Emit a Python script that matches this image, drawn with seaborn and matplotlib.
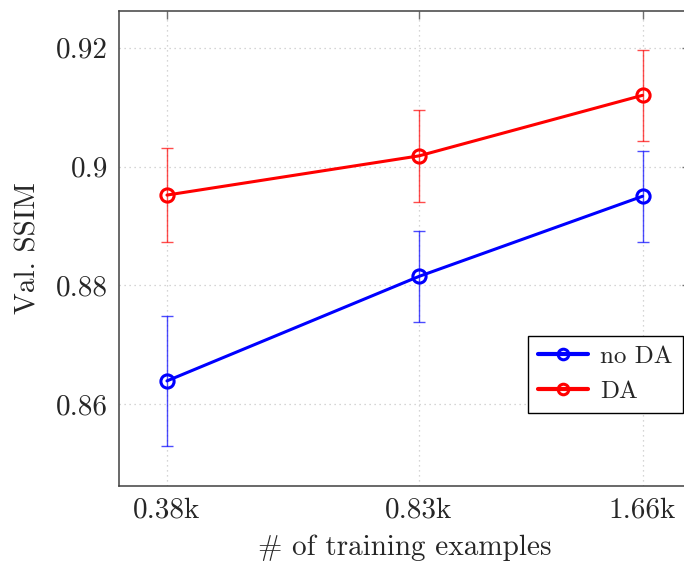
import matplotlib
matplotlib.use('Agg')
import matplotlib.pyplot as plt
from matplotlib.ticker import NullLocator
import pandas as pd
import seaborn as sns

# training set sizes (log spaced x axis)
sizes = [380, 830, 1660]
tick_labels = ['0.38k', '0.83k', '1.66k']

ssim_no_da = [0.8639, 0.8815, 0.8950]
err_no_da = [0.0110, 0.0076, 0.0077]
ssim_da = [0.8952, 0.9018, 0.9120]
err_da = [0.0079, 0.0077, 0.0077]

series = [('no DA', ssim_no_da, err_no_da, 'blue'),
          ('DA', ssim_da, err_da, 'red')]

sns.set_style('white')
plt.rcParams['font.family'] = ['cmr10', 'DejaVu Serif']
plt.rcParams['axes.formatter.use_mathtext'] = True
plt.rcParams['mathtext.fontset'] = 'cm'

fig = plt.figure(figsize=(6.84, 5.66), dpi=100)
ax = fig.add_axes([119 / 684, 1 - 486 / 566, 571 / 684, 475 / 566])

for name, vals, errs, color in series:
    df = pd.DataFrame({'size': sizes, 'ssim': vals})
    ax.errorbar(sizes, vals, yerr=errs, fmt='none', ecolor=color,
                elinewidth=1.0, capsize=4, capthick=1.0, alpha=0.7, zorder=2)
    sns.lineplot(data=df, x='size', y='ssim', ax=ax, color=color,
                 linewidth=2.2, marker='o', markersize=9.5,
                 markerfacecolor='none', markeredgecolor=color,
                 markeredgewidth=2.2, label=name, zorder=3)

ax.set_xscale('log')
ax.set_xlim(327.5, 1923)
ax.set_ylim(0.8462, 0.9262)
ax.set_xticks(sizes)
ax.set_xticklabels(tick_labels)
ax.xaxis.set_minor_locator(NullLocator())
ax.set_yticks([0.86, 0.88, 0.9, 0.92])
ax.set_yticklabels(['0.86', '0.88', '0.9', '0.92'])

ax.grid(True, color='#c8c8c8', linestyle=(0, (1, 3)), linewidth=0.9)
ax.tick_params(direction='in', length=6, width=1, color='#707070',
               top=True, right=True, labelsize=21, pad=8)
for sp in ax.spines.values():
    sp.set_color('#404040')
    sp.set_linewidth(1.1)

ax.set_xlabel('# of training examples', fontsize=21, labelpad=8)
ax.set_ylabel('Val. SSIM', fontsize=21, labelpad=10)

leg = ax.legend(loc='lower right', bbox_to_anchor=(683 / 684, 1 - 413 / 566),
                bbox_transform=fig.transFigure, borderaxespad=0,
                fontsize=18, frameon=True, fancybox=False, framealpha=1,
                edgecolor='black', handlelength=2.0, handletextpad=0.5,
                labelspacing=0.5, borderpad=0.4, markerscale=0.8)
leg.get_frame().set_linewidth(1.0)
for line in leg.get_lines():
    line.set_linewidth(3)

fig.savefig('out.png', dpi=100)
